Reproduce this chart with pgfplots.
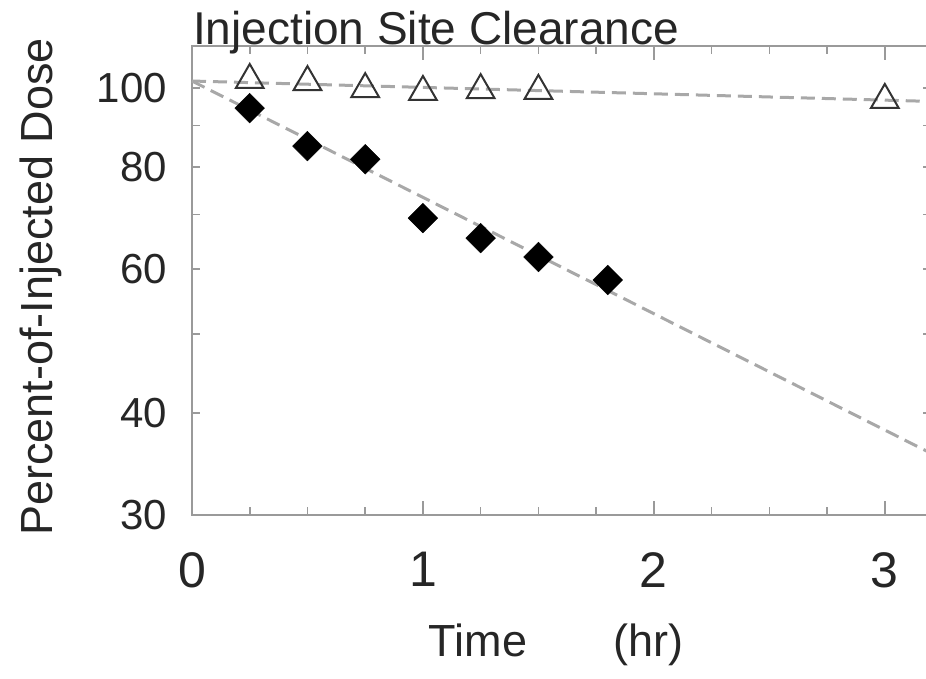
\documentclass[border=0pt]{standalone}
\usepackage{pgfplots}
\pgfplotsset{compat=1.18}
\usepackage{fontspec}
\setmainfont{Liberation Sans}
\definecolor{axgray}{HTML}{9A9A9A}
\definecolor{linegray}{HTML}{A8A8A8}
\begin{document}
\begin{tikzpicture}
\useasboundingbox (0,0) rectangle (926pt,679pt);
\begin{axis}[
  at={(192pt,164pt)}, anchor=south west,
  scale only axis, width=739pt, height=469pt,
  xmin=0, xmax=3.2,
  ymode=log, ymin=30, ymax=112.6,
  axis line style={axgray, line width=2pt},
  every tick/.style={axgray, line width=1.6pt},
  tick align=inside,
  major tick length=14pt, minor tick length=8pt,
  xtick={0,1,2,3},
  minor xtick={0.25,0.5,0.75,1.25,1.5,1.75,2.25,2.5,2.75,3.25},
  ytick={30,40,60,80,100},
  yticklabels={30,40,60,80,100},
  every major y tick/.append style={draw=none},
  minor ytick={30,40,50,60,70,80,90,100},
  every minor y tick/.append style={axgray, line width=1.6pt},
  /pgf/number format/assume math mode=true,
  xticklabel style={font=\fontsize{50}{50}\selectfont, inner sep=0pt, anchor=north, yshift=-37pt, text=black!85},
  yticklabel style={font=\fontsize{42}{42}\selectfont, inner sep=0pt, anchor=east, xshift=-25pt, text=black!85},
  clip=false,
]
\addplot[linegray, line width=3pt, dash pattern=on 14pt off 7pt] coordinates {(0,102.0) (3.2,96.3)};
\addplot[linegray, line width=3pt, dash pattern=on 14pt off 7pt] coordinates {(0,102.0) (3.2,35.7)};
\addplot[only marks, mark=triangle, mark size=16pt, mark options={draw=black!80, fill=white, line width=2pt}]
  coordinates {(0.25,102.3) (0.5,101.7) (0.75,99.7) (1.0,98.9) (1.25,99.4) (1.5,99.2) (3.0,96.7)};
\addplot[only marks, mark=square*, mark size=10.5pt, mark options={rotate=45, draw=black, fill=black}]
  coordinates {(0.25,94.5) (0.5,84.9) (0.75,81.8) (1.0,69.3) (1.25,65.5) (1.5,62.1) (1.8,58.2)};
\end{axis}
\node[anchor=base west, font=\fontsize{46}{46}\selectfont, text=black!85, inner sep=0pt] at (193pt,634pt) {Injection Site Clearance};
\node[anchor=base, rotate=90, font=\fontsize{45}{45}\selectfont, text=black!85, inner sep=0pt] at (52pt,392pt) {Percent-of-Injected Dose};
\node[anchor=base, font=\fontsize{45}{45}\selectfont, text=black!85, inner sep=0pt] at (556pt,22pt) {Time\hspace{86pt}(hr)};
\end{tikzpicture}
\end{document}
